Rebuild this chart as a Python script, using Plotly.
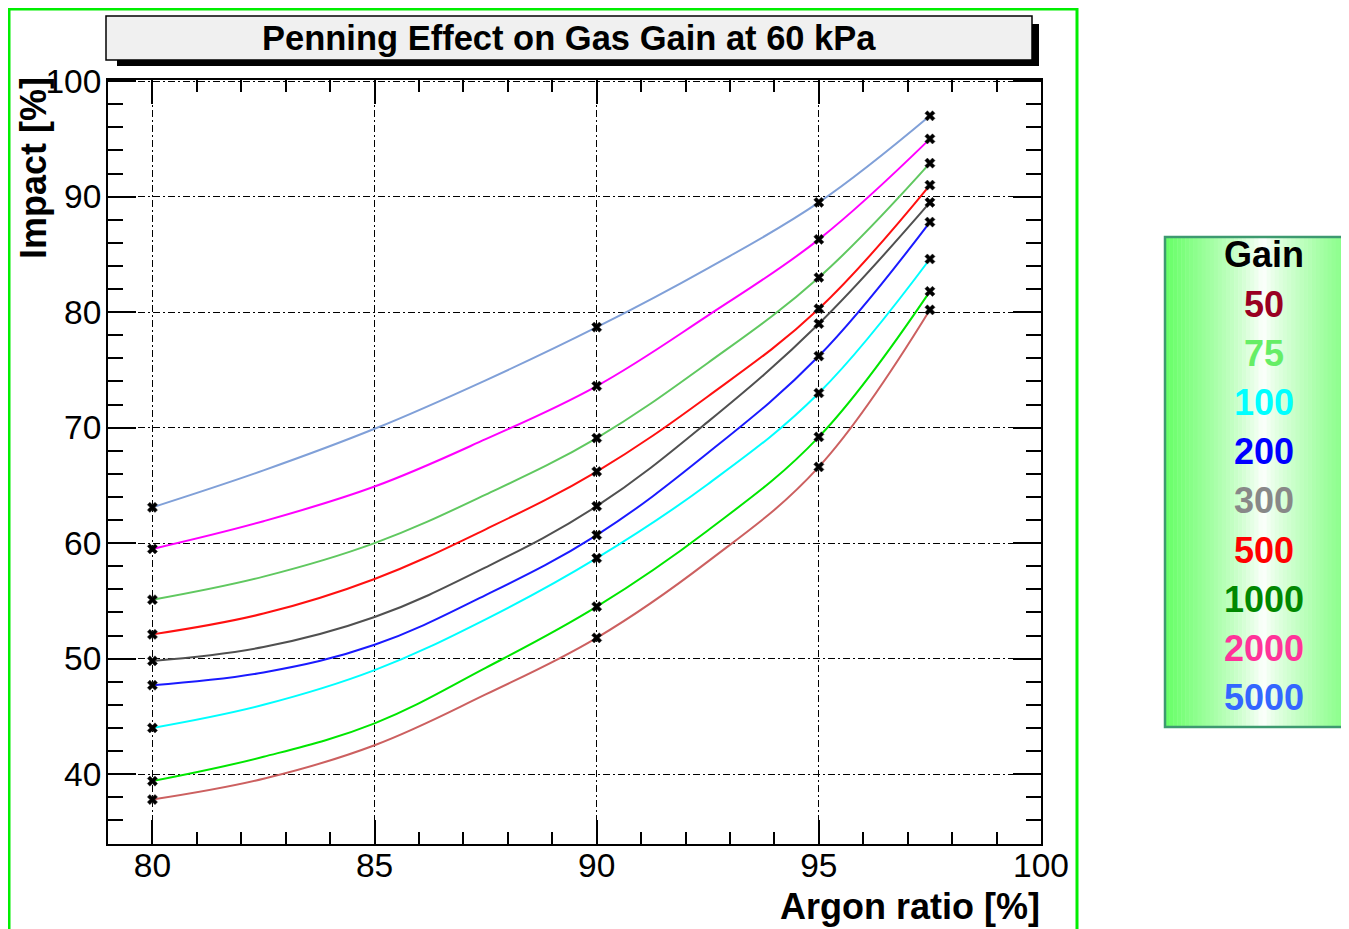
import plotly.graph_objects as go

# ---------------- data ----------------
# argon ratio [%] where the fitted curves were read
curve_x = [80, 82.5, 85, 87.5, 90, 92.5, 95, 97.5]
# argon ratios of the measured points (markers)
measured_x = [80, 90, 95, 97.5]

gain_labels = ["50", "75", "100", "200", "300", "500", "1000", "2000", "5000"]

impact_50 = [37.8, 39.6, 42.5, 46.9, 51.8, 58.4, 66.6, 80.2]
impact_75 = [55.1, 57.1, 60.0, 64.2, 69.1, 75.6, 83.0, 92.9]
impact_100 = [44.0, 46.0, 49.0, 53.4, 58.7, 65.1, 73.0, 84.6]
impact_200 = [47.7, 48.8, 51.2, 55.5, 60.7, 67.8, 76.2, 87.8]
impact_300 = [49.8, 51.0, 53.6, 57.9, 63.2, 70.5, 79.0, 89.5]
impact_500 = [52.1, 53.9, 56.9, 61.2, 66.2, 72.7, 80.3, 91.0]
impact_1000 = [39.4, 41.5, 44.4, 49.2, 54.5, 61.1, 69.2, 81.8]
impact_2000 = [59.5, 61.9, 64.9, 69.0, 73.6, 79.7, 86.3, 95.0]
impact_5000 = [63.1, 66.3, 69.9, 74.1, 78.7, 83.8, 89.5, 97.0]

x_ticks = [80, 85, 90, 95, 100]
y_ticks = [40, 50, 60, 70, 80, 90, 100]

series = [
    ("50", impact_50, "#cc6060"),
    ("1000", impact_1000, "#00e600"),
    ("100", impact_100, "#00ffff"),
    ("200", impact_200, "#1a1aff"),
    ("300", impact_300, "#505050"),
    ("500", impact_500, "#ff1010"),
    ("75", impact_75, "#60c860"),
    ("2000", impact_2000, "#ff00ff"),
    ("5000", impact_5000, "#80a0d8"),
]

legend_text_colors = ["#990022", "#66ee66", "#00ffff", "#0000ff", "#888888",
                      "#ff0000", "#008800", "#ff3399", "#3366ff"]

# ---------------- layout geometry (reference pixels) ----------------
OFF = 8  # browser body margin
W, H = 1349 - OFF, 929 - OFF
PL, PR, PT, PB = 108, 1041, 80, 844  # plot area in reference pixels


def fx(px):
    return (px - PL) / (PR - PL)


def fy(py):
    return (PB - py) / (PB - PT)


FONT = "Liberation Sans, Arial, Helvetica, sans-serif"
GRID_DASH = "7px,3px,2px,3px"

fig = go.Figure()

for name, vals, col in series:
    fig.add_trace(go.Scatter(
        x=curve_x, y=vals, name=name, mode="lines",
        line=dict(color=col, width=2, shape="spline", smoothing=1.1),
        showlegend=False, hoverinfo="skip",
    ))
for name, vals, col in series:
    mv = [vals[curve_x.index(xv)] for xv in measured_x]
    fig.add_trace(go.Scatter(
        x=measured_x, y=mv, name=name, mode="markers",
        marker=dict(symbol="x", size=9, color="black",
                    line=dict(width=0.5, color="#333333")),
        showlegend=False, hoverinfo="x+y+name",
    ))

shapes = []
# green outer frame
shapes.append(dict(type="rect", xref="paper", yref="paper",
                   x0=fx(9), x1=fx(1077), y0=fy(945), y1=fy(9),
                   line=dict(color="#00ee00", width=3), fillcolor="rgba(0,0,0,0)",
                   layer="above"))
# title box shadow + box
shapes.append(dict(type="rect", xref="paper", yref="paper",
                   x0=fx(117), x1=fx(1039), y0=fy(66), y1=fy(24),
                   line=dict(width=0), fillcolor="black", layer="above"))
shapes.append(dict(type="rect", xref="paper", yref="paper",
                   x0=fx(106), x1=fx(1032), y0=fy(60), y1=fy(16),
                   line=dict(color="black", width=1.5), fillcolor="#f0f0f0",
                   layer="above"))

# legend box with green-white-green gradient
LX0, LX1, LY0, LY1 = 1165, 1352, 237, 727
n_strips = 46
cx = 1263
for i in range(n_strips):
    a = LX0 + (LX1 - LX0) * i / n_strips
    b = LX0 + (LX1 - LX0) * (i + 1) / n_strips
    mid = 0.5 * (a + b)
    if mid < cx:
        t = min(1.0, (cx - mid) / (cx - LX0))
        g0 = (0x66, 0xff, 0x66)
    else:
        t = min(1.0, (mid - cx) / (LX1 - cx))
        g0 = (0x80, 0xff, 0x80)
    t = t ** 0.8
    r = int(round(255 + (g0[0] - 255) * t))
    gg = int(round(255 + (g0[1] - 255) * t))
    bb = int(round(255 + (g0[2] - 255) * t))
    shapes.append(dict(type="rect", xref="paper", yref="paper",
                       x0=fx(a), x1=fx(b) + 0.0005, y0=fy(LY1), y1=fy(LY0),
                       line=dict(width=0), fillcolor=f"rgb({r},{gg},{bb})",
                       layer="above"))
shapes.append(dict(type="rect", xref="paper", yref="paper",
                   x0=fx(LX0), x1=fx(LX1), y0=fy(LY1), y1=fy(LY0),
                   line=dict(color="#3d9a70", width=2.5), fillcolor="rgba(0,0,0,0)",
                   layer="above"))

annotations = []
annotations.append(dict(text="<b>Penning Effect on Gas Gain at 60 kPa</b>",
                        xref="paper", yref="paper", x=fx(569), y=fy(38),
                        xanchor="center", yanchor="middle", showarrow=False,
                        font=dict(family=FONT, size=34.5, color="black")))
annotations.append(dict(text="<b>Argon ratio [%]</b>",
                        xref="paper", yref="paper", x=fx(1042), y=fy(906),
                        xanchor="right", yanchor="middle", showarrow=False,
                        font=dict(family=FONT, size=36, color="black")))
annotations.append(dict(text="<b>Impact [%]</b>", textangle=-90,
                        xref="paper", yref="paper", x=fx(33), y=fy(168),
                        xanchor="center", yanchor="middle", showarrow=False,
                        font=dict(family=FONT, size=36, color="black")))

annotations.append(dict(text="<b>Gain</b>", xref="paper", yref="paper",
                        x=fx(1264), y=fy(255), xanchor="center", yanchor="middle",
                        showarrow=False, font=dict(family=FONT, size=36, color="black")))
for i, (lab, col) in enumerate(zip(gain_labels, legend_text_colors)):
    annotations.append(dict(text=f"<b>{lab}</b>", xref="paper", yref="paper",
                            x=fx(1264), y=fy(304 + 49.2 * i),
                            xanchor="center", yanchor="middle", showarrow=False,
                            font=dict(family=FONT, size=36, color=col)))

fig.update_layout(
    width=W, height=H,
    margin=dict(l=PL - OFF, r=(1349 - PR), t=PT - OFF, b=(929 - PB), pad=0),
    paper_bgcolor="white", plot_bgcolor="white",
    font=dict(family=FONT, color="black"),
    shapes=shapes, annotations=annotations,
    showlegend=False,
)

fig.update_xaxes(
    range=[79, 100], tickvals=x_ticks, ticktext=[str(v) for v in x_ticks],
    showline=True, linecolor="black", linewidth=2, mirror="allticks",
    ticks="inside", ticklen=24, tickwidth=1.5, tickcolor="black",
    minor=dict(dtick=1, ticks="inside", ticklen=12, tickwidth=1.5, tickcolor="black",
               showgrid=False),
    showgrid=True, gridcolor="black", gridwidth=1.2, griddash=GRID_DASH,
    zeroline=False, tickfont=dict(family=FONT, size=33.5, color="black"),
    ticklabelstandoff=-9,
)
fig.update_yaxes(
    range=[33.95, 100.1], tickvals=y_ticks, ticktext=[str(v) for v in y_ticks],
    showline=True, linecolor="black", linewidth=2, mirror="allticks",
    ticks="inside", ticklen=28, tickwidth=1.5, tickcolor="black",
    minor=dict(dtick=2, tick0=40, ticks="inside", ticklen=15, tickwidth=1.5,
               tickcolor="black", showgrid=False),
    showgrid=True, gridcolor="black", gridwidth=1.2, griddash=GRID_DASH,
    zeroline=False, tickfont=dict(family=FONT, size=33.5, color="black"),
    ticklabelstandoff=-2,
)

fig.write_html("out.html")
